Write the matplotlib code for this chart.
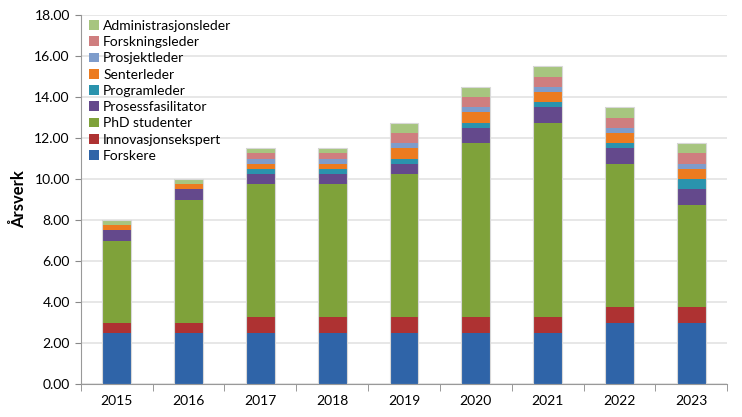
import matplotlib
matplotlib.use("Agg")
import matplotlib.pyplot as plt
import numpy as np

years = ["2015", "2016", "2017", "2018", "2019", "2020", "2021", "2022", "2023"]
series_names = ["Forskere", "Innovasjonsekspert", "PhD studenter", "Prosessfasilitator",
                "Programleder", "Senterleder", "Prosjektleder", "Forskningsleder",
                "Administrasjonsleder"]
forskere = [2.5, 2.5, 2.5, 2.5, 2.5, 2.5, 2.5, 3.0, 3.0]
innovasjonsekspert = [0.5, 0.5, 0.75, 0.75, 0.75, 0.75, 0.75, 0.75, 0.75]
phd_studenter = [4.0, 6.0, 6.5, 6.5, 7.0, 8.5, 9.5, 7.0, 5.0]
prosessfasilitator = [0.5, 0.5, 0.5, 0.5, 0.5, 0.75, 0.75, 0.75, 0.75]
programleder = [0, 0, 0.25, 0.25, 0.25, 0.25, 0.25, 0.25, 0.5]
senterleder = [0.25, 0.25, 0.25, 0.25, 0.5, 0.5, 0.5, 0.5, 0.5]
prosjektleder = [0, 0, 0.25, 0.25, 0.25, 0.25, 0.25, 0.25, 0.25]
forskningsleder = [0, 0, 0.25, 0.25, 0.5, 0.5, 0.5, 0.5, 0.5]
administrasjonsleder = [0.25, 0.25, 0.25, 0.25, 0.5, 0.5, 0.5, 0.5, 0.5]
yticks = [0, 2, 4, 6, 8, 10, 12, 14, 16, 18]

data = [forskere, innovasjonsekspert, phd_studenter, prosessfasilitator, programleder,
        senterleder, prosjektleder, forskningsleder, administrasjonsleder]
colors = ["#2F64A8", "#AE3232", "#7FA23A", "#64498C", "#2A93AD", "#EC7B1F",
          "#7E9CCB", "#CF7E7F", "#A7C57F"]

plt.rcParams['font.family'] = ['Lato', 'DejaVu Sans']
fig = plt.figure(figsize=(7.42, 4.17), dpi=100)
ax = fig.add_axes([0.109, 0.079, 0.871, 0.885])

x = np.arange(len(years))
bottom = np.zeros(len(years))
handles = []
for name, vals, c in zip(series_names, data, colors):
    v = np.array(vals, dtype=float)
    b = ax.bar(x, v, 0.40, bottom=bottom, color=c, edgecolor="none", label=name, zorder=3)
    handles.append(b)
    bottom += v
# light outline around whole bar
ax.bar(x, bottom, 0.40, color="none", edgecolor="#D8D8D8", linewidth=0.8, zorder=4)

ax.set_xlim(-0.5, len(years) - 0.5)
ax.set_ylim(0, 18)
ax.set_yticks(yticks)
ax.set_yticklabels([f"{t:.2f}" for t in yticks], fontsize=10)
ax.set_xticks(x)
ax.set_xticklabels(years, fontsize=10)
ax.set_xticks(np.arange(-0.5, len(years)), minor=True)
ax.tick_params(axis='x', which='major', length=0, pad=8)
ax.tick_params(axis='x', which='minor', length=5, color="#888888", direction='out')
ax.tick_params(axis='y', length=4, color="#888888", direction='out', pad=4)
ax.grid(axis='y', color="#E3E3E3", linewidth=1.2, zorder=0)
for s in ["top", "right"]:
    ax.spines[s].set_visible(False)
ax.spines["left"].set_color("#999999")
ax.spines["bottom"].set_color("#999999")
ax.set_ylabel("Årsverk", fontsize=12, fontweight='bold', labelpad=5)

leg = ax.legend(handles[::-1], series_names[::-1], loc="upper left", bbox_to_anchor=(0.0, 1.01),
                frameon=False, fontsize=10, handlelength=0.7, handleheight=0.7,
                handletextpad=0.3, labelspacing=0.31, borderaxespad=0.2)

fig.savefig("out.png", dpi=100)
